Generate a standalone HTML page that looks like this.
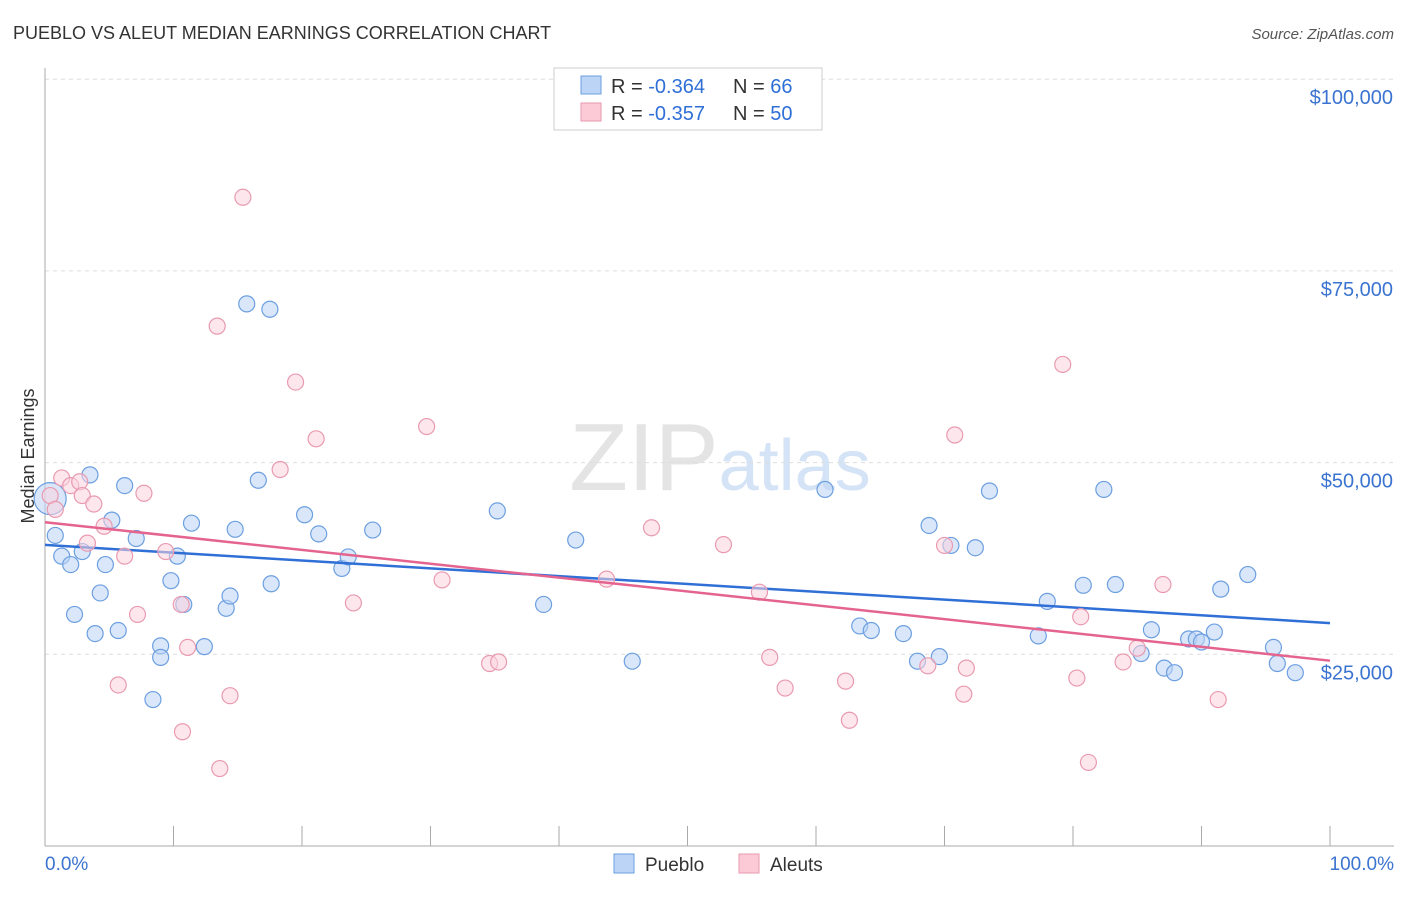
<!DOCTYPE html>
<html><head><meta charset="utf-8">
<style>
body{margin:0;background:#fff;font-family:"Liberation Sans",sans-serif;}
svg text{font-family:"Liberation Sans",sans-serif;}
</style></head>
<body>
<svg id="chart" width="1406" height="892" xmlns="http://www.w3.org/2000/svg">
<text x="13" y="39" font-size="18" fill="#333">PUEBLO VS ALEUT MEDIAN EARNINGS CORRELATION CHART</text>
<text x="1394" y="39" font-size="15" fill="#555" text-anchor="end" font-style="italic">Source: ZipAtlas.com</text>
<text x="720" y="490" font-size="96" text-anchor="middle" fill="#e4e4e4" font-family="Liberation Serif">ZIP<tspan fill="#d4e3f5" font-family="Liberation Sans" font-size="72">atlas</tspan></text>
<text transform="translate(34,456) rotate(-90)" font-size="18" fill="#333" text-anchor="middle">Median Earnings</text>
<g id="grid"></g><g id="axes"></g><g id="marks"></g>
<g>
<rect x="554" y="68" width="268" height="62" fill="#fff" stroke="#ccc"/>
<rect x="581" y="76" width="20" height="18" fill="#bcd4f6" stroke="#6c9fe0"/>
<rect x="581" y="103" width="20" height="18" fill="#fcc9d7" stroke="#e99ab0"/>
<text x="611" y="93" font-size="20" fill="#333">R = <tspan fill="#2f6fd6">-0.364</tspan></text>
<text x="733" y="93" font-size="20" fill="#333">N = <tspan fill="#2f6fd6">66</tspan></text>
<text x="611" y="120" font-size="20" fill="#333">R = <tspan fill="#2f6fd6">-0.357</tspan></text>
<text x="733" y="120" font-size="20" fill="#333">N = <tspan fill="#2f6fd6">50</tspan></text>
</g>
<g>
<rect x="614" y="854" width="20" height="19" fill="#bcd4f6" stroke="#6c9fe0"/>
<text x="645" y="871" font-size="19" fill="#333">Pueblo</text>
<rect x="739" y="854" width="20" height="19" fill="#fcc9d7" stroke="#e99ab0"/>
<text x="770" y="871" font-size="19" fill="#333">Aleuts</text>
</g>
</svg>
<script>
const yTicks=[25000,50000,75000,100000];
const yTickLabels=["$25,000","$50,000","$75,000","$100,000"];
const xTickLabels=["0.0%","100.0%"];
const puebloX=[0.4,0.8,1.3,2.0,2.3,2.9,3.5,3.9,4.3,4.7,5.2,5.7,6.2,7.1,8.4,9.0,9.0,9.8,10.3,10.8,11.4,12.4,14.1,14.4,14.8,16.6,15.7,17.5,17.6,20.2,21.3,23.1,23.6,25.5,35.2,38.8,41.3,45.7,60.7,63.4,64.3,66.8,67.9,68.8,69.6,70.5,72.4,73.5,77.3,78.0,80.8,82.4,83.3,85.3,86.1,87.1,87.9,89.0,89.6,90.0,91.0,91.5,93.6,95.6,95.9,97.3];
const puebloY=[45300,40500,37800,36700,30200,38400,48400,27700,33000,36700,42500,28100,47000,40100,19100,26100,24600,34600,37800,31500,42100,26000,31000,32600,41300,47700,70700,70000,34200,43200,40700,36200,37700,41200,43700,31500,39900,24100,46500,28700,28100,27700,24100,41800,24700,39200,38900,46300,27400,31900,34000,46500,34100,25100,28200,23200,22600,27000,27000,26600,27900,33500,35400,25900,23800,22600];
const aleutsX=[0.4,0.8,1.3,2.0,2.7,2.9,3.3,3.8,4.6,5.7,6.2,7.2,7.7,9.4,10.6,10.7,11.1,13.4,13.6,14.4,15.4,18.3,19.5,21.1,24.0,29.7,30.9,34.6,35.3,43.7,47.2,52.8,55.6,56.4,57.6,62.3,62.6,68.7,70.0,70.8,71.5,71.7,79.2,80.3,80.6,81.2,83.9,85.0,87.0,91.3];
const aleutsY=[45700,43900,48000,47000,47500,45700,39500,44600,41700,21000,37800,30200,46000,38400,31500,14900,25900,67800,10100,19600,84600,49100,60500,53100,31700,54700,34700,23800,24000,34800,41500,39300,33100,24600,20600,21500,16400,23500,39200,53600,19800,23200,62800,21900,29900,10900,24000,25800,34100,19100];

const svg=document.getElementById('chart');
const NS='http://www.w3.org/2000/svg';
const X0=45,X1=1330,YB=846,PX=191.7/25000;
const xs=v=>X0+(X1-X0)*v/100;
const ys=v=>YB-v*PX;
function mk(tag,attrs,parent){const e=document.createElementNS(NS,tag);for(const k in attrs)e.setAttribute(k,attrs[k]);parent.appendChild(e);return e;}
const grid=document.getElementById('grid'),axes=document.getElementById('axes'),marks=document.getElementById('marks');
yTicks.forEach((t,i)=>{
  const l=mk('line',{x1:X0,x2:1394,y1:ys(t),y2:ys(t),stroke:'#ddd','stroke-dasharray':'4,4'},grid);
  
  
  const tx=mk('text',{x:1393,y:ys(t)+25,'font-size':20,fill:'#3b74d0','text-anchor':'end'},axes);
  tx.textContent=yTickLabels[i];
  
  
});
const ax=mk('line',{x1:X0,x2:X0,y1:68,y2:YB,stroke:'#aaa'},axes);


const bx=mk('line',{x1:X0,x2:1394,y1:YB,y2:YB,stroke:'#aaa'},axes);


for(let i=0;i<=10;i++){
  const t=mk('line',{x1:xs(i*10),x2:xs(i*10),y1:826,y2:YB,stroke:'#aaa'},axes);
  
  
}
[[0,'start',45],[100,'end',1394]].forEach((d,i)=>{
  const t=mk('text',{x:d[2],y:870,'font-size':19,fill:'#3b74d0','text-anchor':d[1]},axes);
  t.textContent=xTickLabels[i];
  
  
});
function fit(X,Y){const n=X.length;let mx=0,my=0;for(let i=0;i<n;i++){mx+=X[i];my+=Y[i];}mx/=n;my/=n;let a=0,b=0;for(let i=0;i<n;i++){a+=(X[i]-mx)*(Y[i]-my);b+=(X[i]-mx)**2;}const s=a/b;return [my-s*mx,s];}
function series(X,Y,fill,stroke,line,name){
  X.forEach((x,i)=>{
    const c=mk('circle',{cx:xs(x),cy:ys(Y[i]),r:(i===0&&name==='pueblo')?16:8,fill:fill,'fill-opacity':0.55,stroke:stroke,'stroke-width':1.2},marks);
    
    
  });
  const [b0,s]=fit(X,Y);
  const l=mk('line',{x1:xs(0),y1:ys(b0),x2:xs(100),y2:ys(b0+100*s),stroke:line,'stroke-width':2.5},marks);
  
  
}
series(puebloX,puebloY,'#bcd4f6','#6c9fe0','#2f6fd6','pueblo');
series(aleutsX,aleutsY,'#fcd3de','#e99ab0','#e4648f','aleuts');
</script>
</body></html>
